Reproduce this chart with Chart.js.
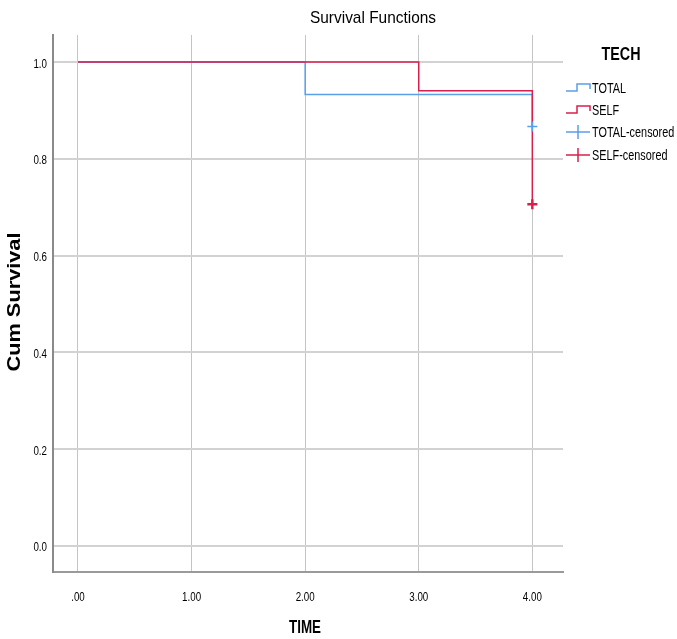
<!DOCTYPE html>
<html>
<head>
<meta charset="utf-8">
<script src="https://cdn.jsdelivr.net/npm/chart.js@4.4.1/dist/chart.umd.min.js"></script>
<style>
  html, body { margin: 0; padding: 0; background: #fff; }
  #wrap { width: 677px; height: 639px; position: relative; }
</style>
</head>
<body>
<div id="wrap"><canvas id="chart"></canvas></div>
<script>
// Kaplan-Meier estimates
const timeTotal = [0, 2, 4];
const survTotal = [1.0, 0.933, 0.867];
const timeSelf = [0, 3, 4];
const survSelf = [1.0, 0.941, 0.706];

const censTimeTotal = [4];
const censSurvTotal = [0.867];
const censTimeSelf = [4];
const censSurvSelf = [0.706];

const xTicks = [0, 1, 2, 3, 4];
const xTickLabels = [".00", "1.00", "2.00", "3.00", "4.00"];
const yTicks = [0, 0.2, 0.4, 0.6, 0.8, 1.0];
const yTickLabels = ["0.0", "0.2", "0.4", "0.6", "0.8", "1.0"];

const legendLabels = ["TOTAL", "SELF", "TOTAL-censored", "SELF-censored"];

const BLUE = "#5a9fe8";
const RED = "#d81f4d";
const FONT = "'Liberation Sans', Arial, sans-serif";

const toPoints = (xs, ys) => xs.map((x, i) => ({ x: x, y: ys[i] }));

// draws text squeezed horizontally (the original uses a narrow font)
function narrowText(ctx, text, x, y, font, sx, align) {
    ctx.save();
    ctx.font = font;
    ctx.textBaseline = "middle";
    ctx.textAlign = align || "center";
    ctx.translate(x, y);
    ctx.scale(sx, 1);
    ctx.fillText(text, 0, 0);
    ctx.restore();
}

function fitScale(ctx, text, font, width) {
    ctx.save();
    ctx.font = font;
    const w = ctx.measureText(text).width;
    ctx.restore();
    return width / w;
}

const decorations = {
    id: "decorations",
    afterDraw(chart) {
        const ctx = chart.ctx;
        ctx.save();
        ctx.fillStyle = "#000";

        // tick labels through the chart's own scales
        const tickFont = "13px " + FONT;
        const tsx = fitScale(ctx, "1.00", tickFont, 19);
        const xs = chart.scales.x, ys = chart.scales.y;
        xTicks.forEach((v, i) => {
            narrowText(ctx, xTickLabels[i], xs.getPixelForValue(v), 597, tickFont, tsx);
        });
        yTicks.forEach((v, i) => {
            narrowText(ctx, yTickLabels[i], 47, ys.getPixelForValue(v) + 2, tickFont, tsx, "right");
        });

        const titleFont = "17px " + FONT;
        narrowText(ctx, "Survival Functions", 373, 18, titleFont,
            fitScale(ctx, "Survival Functions", titleFont, 126));

        const boldFont = "bold 18px " + FONT;
        narrowText(ctx, "TIME", 305, 628, boldFont, fitScale(ctx, "TIME", boldFont, 32));
        narrowText(ctx, "TECH", 621, 55, boldFont, fitScale(ctx, "TECH", boldFont, 39));

        ctx.save();
        ctx.translate(15, 302);
        ctx.rotate(-Math.PI / 2);
        narrowText(ctx, "Cum Survival", 0, 0, boldFont, fitScale(ctx, "Cum Survival", boldFont, 139));
        ctx.restore();

        const rows = [88, 110, 132, 155];
        const colors = [BLUE, RED, BLUE, RED];
        const legFont = "15px " + FONT;
        const lsx = fitScale(ctx, "TOTAL", legFont, 34);
        rows.forEach((y, i) => {
            ctx.strokeStyle = colors[i];
            ctx.lineWidth = 1.5;
            ctx.beginPath();
            if (i < 2) {
                ctx.moveTo(566, y + 3);
                ctx.lineTo(577, y + 3);
                ctx.lineTo(577, y - 4);
                ctx.lineTo(590, y - 4);
                ctx.lineTo(590, y + 1);
            } else {
                ctx.moveTo(566, y);
                ctx.lineTo(590, y);
                ctx.moveTo(578, y - 7);
                ctx.lineTo(578, y + 7);
            }
            ctx.stroke();
            narrowText(ctx, legendLabels[i], 592, y + 1, legFont, lsx, "left");
        });
        ctx.restore();
    }
};

new Chart(document.getElementById("chart"), {
    type: "line",
    data: {
        datasets: [
            {
                label: "SELF-censored",
                data: toPoints(censTimeSelf, censSurvSelf),
                showLine: false,
                pointStyle: "cross",
                pointRadius: 5,
                pointBorderWidth: 2.5,
                borderColor: RED,
                backgroundColor: RED,
            },
            {
                label: "TOTAL-censored",
                data: toPoints(censTimeTotal, censSurvTotal),
                showLine: false,
                pointStyle: "cross",
                pointRadius: 5,
                pointBorderWidth: 1.5,
                borderColor: BLUE,
                backgroundColor: BLUE,
            },
            {
                label: "SELF",
                data: toPoints(timeSelf, survSelf),
                borderColor: RED,
                borderWidth: 1.5,
                stepped: true,
                pointRadius: 0,
                fill: false,
            },
            {
                label: "TOTAL",
                data: toPoints(timeTotal, survTotal),
                borderColor: BLUE,
                borderWidth: 1.5,
                stepped: true,
                pointRadius: 0,
                fill: false,
            },
        ],
    },
    options: {
        responsive: true,
        maintainAspectRatio: false,
        animation: false,
        layout: { padding: { left: 0, right: 114, top: 35, bottom: 0 } },
        plugins: {
            legend: { display: false },
            title: { display: false },
            tooltip: { enabled: false },
        },
        scales: {
            x: {
                type: "linear",
                min: -0.22,
                max: 4.27,
                afterFit: (scale) => { scale.height = 67; },
                afterBuildTicks: (scale) => { scale.ticks = xTicks.map((v) => ({ value: v })); },
                ticks: { display: false },
                grid: { color: "#c4c4c4", lineWidth: 1, drawTicks: false },
                border: { color: "#9a9a9a", width: 2 },
            },
            y: {
                type: "linear",
                min: -0.054,
                max: 1.056,
                afterFit: (scale) => { scale.width = 53; },
                afterBuildTicks: (scale) => { scale.ticks = yTicks.map((v) => ({ value: v })); },
                ticks: { display: false },
                grid: { color: "#d2d2d2", lineWidth: 2, drawTicks: false },
                border: { color: "#8a8a8a", width: 2 },
            },
        },
    },
    plugins: [decorations],
});
</script>
</body>
</html>
